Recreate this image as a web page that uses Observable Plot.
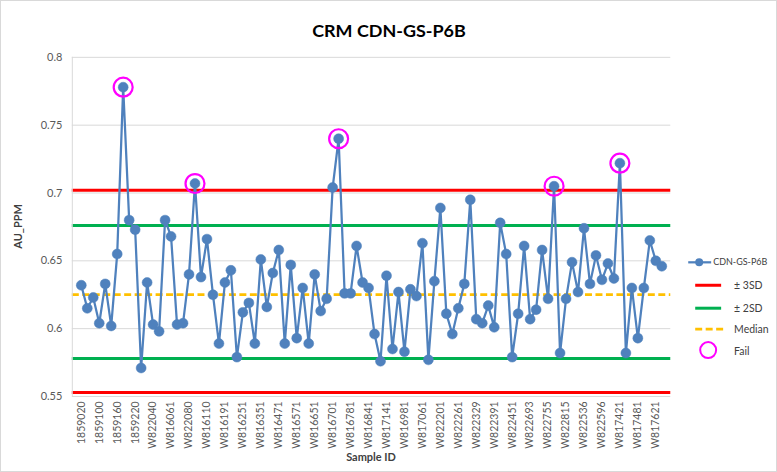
<!DOCTYPE html>
<html><head><meta charset="utf-8">
<script src="https://cdn.jsdelivr.net/npm/d3@7"></script>
<script src="https://cdn.jsdelivr.net/npm/@observablehq/plot@0.6"></script>
<style>
body{margin:0;background:#fff;}
#chart{position:relative;width:777px;height:472px;box-sizing:border-box;border:1px solid #d9d9d9;overflow:hidden;}
#chart svg{position:absolute;left:-1px;top:-1px;}
</style></head><body><div id="chart"></div>
<script>
const title = "CRM CDN-GS-P6B";
const seriesName = "CDN-GS-P6B";
const yLabel = "AU_PPM";
const xLabel = "Sample ID";
const values = [0.632,0.615,0.623,0.604,0.633,0.602,0.655,0.778,0.680,0.673,
0.571,0.634,0.603,0.598,0.680,0.668,0.603,0.604,0.640,0.707,
0.638,0.666,0.625,0.589,0.634,0.643,0.579,0.612,0.619,0.589,
0.651,0.616,0.641,0.658,0.589,0.647,0.593,0.630,0.589,0.640,
0.613,0.622,0.704,0.740,0.626,0.626,0.661,0.634,0.630,0.596,
0.576,0.639,0.585,0.627,0.583,0.629,0.624,0.663,0.577,0.635,
0.689,0.611,0.596,0.615,0.633,0.695,0.607,0.604,0.617,0.601,
0.678,0.655,0.579,0.611,0.661,0.607,0.614,0.658,0.622,0.705,
0.582,0.622,0.649,0.627,0.674,0.633,0.654,0.636,0.648,0.637,
0.722,0.582,0.630,0.593,0.630,0.665,0.650,0.646];
const tickLabels = ["1859020","1859100","1859160","1859220","W822040","W816061","W822080","W816110","W816191","W816251","W816351","W816471","W816571","W816651","W816701","W816781","W816841","W817141","W816981","W817061","W822201","W822261","W822329","W822391","W822451","W822693","W822755","W822815","W822536","W822596","W817421","W817481","W817621"];
const tickStep = 3;
const failIndex = [7, 19, 43, 79, 90];
const sd3 = [0.553, 0.702];
const sd2 = [0.578, 0.676];
const median = [0.625];
const yTicks = [0.55, 0.6, 0.65, 0.7, 0.75, 0.8];

const blue = "#4f81bd", red = "#ff0000", green = "#00b050", orange = "#ffc000", magenta = "#ff00ff";
const font = "Lato, 'Open Sans', sans-serif";

const idx = d3.range(values.length);
const data = values.map((v, i) => ({i, v}));
const fails = failIndex.map(i => ({i, v: values[i]}));
const tickIdx = tickLabels.map((_, k) => k * tickStep);

const plot = Plot.plot({
  width: 777, height: 472,
  marginLeft: 72, marginRight: 105, marginTop: 57, marginBottom: 75,
  style: {fontFamily: font, fontSize: "11px", color: "#595959", background: "transparent"},
  x: {type: "point", domain: idx, padding: 0.5, label: null},
  y: {domain: [0.55, 0.8], label: null},
  marks: [
    Plot.gridY(yTicks, {stroke: "#d9d9d9", strokeOpacity: 1, strokeWidth: 1}),
    Plot.axisY(yTicks, {tickSize: 0, tickPadding: 10, tickFormat: d => String(d), label: null, fontSize: 11}),
    Plot.axisX(tickIdx, {tickSize: 0, tickPadding: 5, tickRotate: -90, tickFormat: i => tickLabels[i / tickStep], label: null, fontSize: 10.5}),
    Plot.ruleY(sd3, {stroke: red, strokeWidth: 3}),
    Plot.ruleY(sd2, {stroke: green, strokeWidth: 3}),
    Plot.ruleY(median, {stroke: orange, strokeWidth: 2.75, strokeDasharray: "7,3.5"}),
    Plot.line(data, {x: "i", y: "v", stroke: blue, strokeWidth: 2.25}),
    Plot.dot(data, {x: "i", y: "v", r: 5, fill: blue, stroke: blue, strokeWidth: 0.5}),
    Plot.dot(fails, {x: "i", y: "v", r: 9.5, fill: "none", stroke: magenta, strokeWidth: 2.2})
  ]
});
document.getElementById("chart").appendChild(plot);

const svg = d3.select(plot);
const ys = plot.scale("y");
// left axis line
svg.append("line").attr("x1", 72.5).attr("x2", 72.5).attr("y1", ys.apply(0.8)).attr("y2", ys.apply(0.55))
  .attr("stroke", "#d9d9d9");
// title
svg.append("text").attr("x", 390).attr("y", 37).attr("text-anchor", "middle")
  .attr("font-family", font).attr("font-size", 18).attr("font-weight", "bold").attr("fill", "#000").text(title);
svg.append("text").attr("transform", "translate(22,227) rotate(-90)").attr("text-anchor", "middle")
  .attr("font-family", font).attr("font-size", 11).attr("font-weight", "bold").attr("fill", "#404040").text(yLabel);
svg.append("text").attr("x", 372).attr("y", 462).attr("text-anchor", "middle")
  .attr("font-family", font).attr("font-size", 11).attr("font-weight", "bold").attr("fill", "#404040").text(xLabel);

// legend
const lg = svg.append("g").attr("font-family", font).attr("font-size", 10.5).attr("fill", "#404040").attr("text-anchor", "start");
function lgText(x, y, t, fs){ lg.append("text").attr("x", x).attr("y", y).attr("dy", "0.35em").attr("text-anchor", "start").attr("font-size", fs || 10.5).text(t); }
lg.append("line").attr("x1", 690).attr("x2", 713).attr("y1", 263).attr("y2", 263).attr("stroke", blue).attr("stroke-width", 2.25);
lg.append("circle").attr("cx", 701).attr("cy", 263).attr("r", 4).attr("fill", blue);
lgText(715, 263, seriesName, 9);
lg.append("line").attr("x1", 697).attr("x2", 723).attr("y1", 286).attr("y2", 286).attr("stroke", red).attr("stroke-width", 3);
lgText(736, 286, "± 3SD");
lg.append("line").attr("x1", 697).attr("x2", 723).attr("y1", 309).attr("y2", 309).attr("stroke", green).attr("stroke-width", 3);
lgText(736, 309, "± 2SD");
lg.append("line").attr("x1", 697).attr("x2", 725).attr("y1", 330).attr("y2", 330).attr("stroke", orange).attr("stroke-width", 2.75).attr("stroke-dasharray", "7,3.5");
lgText(736, 330, "Median");
lg.append("ellipse").attr("cx", 710).attr("cy", 351).attr("rx", 8).attr("ry", 8).attr("fill", "none").attr("stroke", magenta).attr("stroke-width", 2);
lgText(736, 352, "Fail");
</script></body></html>
